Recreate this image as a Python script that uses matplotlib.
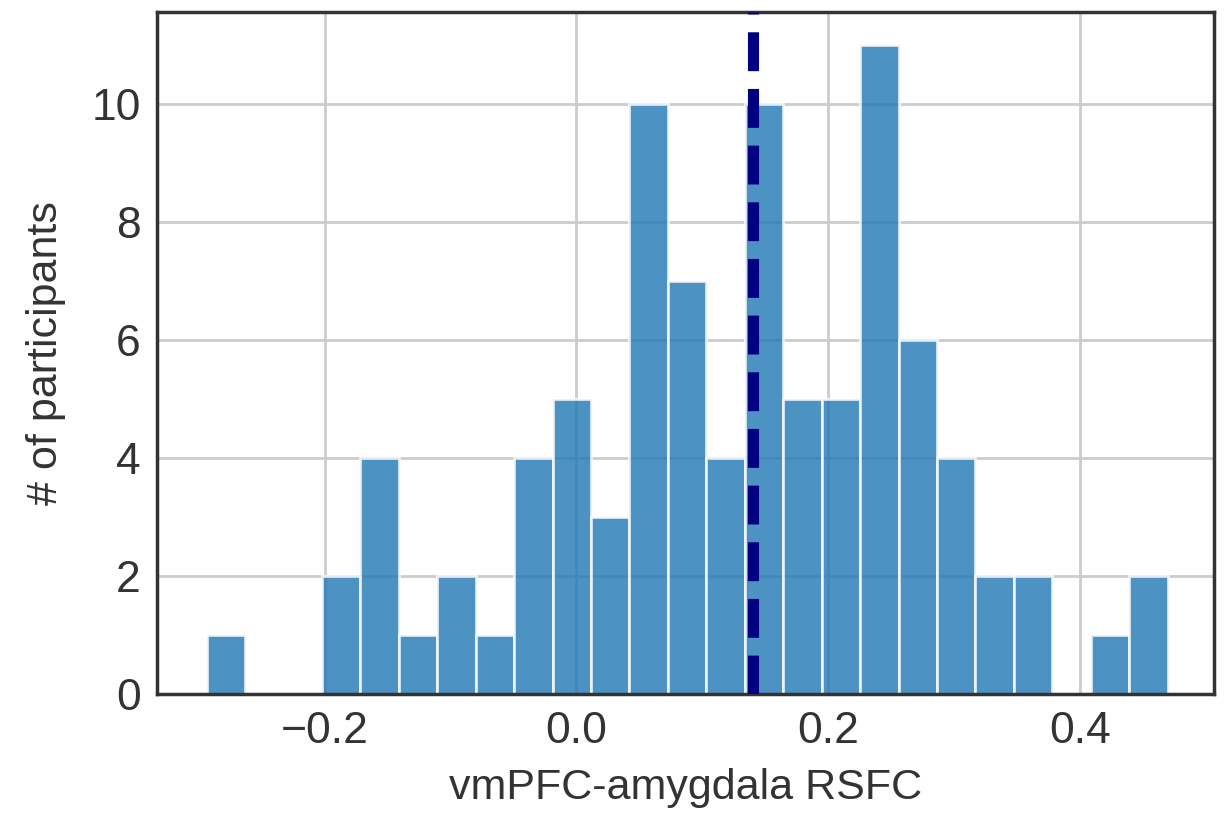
import matplotlib
matplotlib.use("Agg")
import matplotlib.pyplot as plt
import numpy as np

# Data
bin_start = -0.2937
bin_width = 0.03054
counts = [1, 0, 0, 2, 4, 1, 2, 1, 4, 5, 3, 10, 7, 4, 10, 5, 5, 11, 6, 4, 2, 2, 0, 1, 2]
mean_value = 0.1405
xlabel = "vmPFC-amygdala RSFC"
ylabel = "# of participants"

edges = bin_start + bin_width * np.arange(len(counts) + 1)
centers = (edges[:-1] + edges[1:]) / 2

plt.rcParams["font.family"] = ["Liberation Sans", "DejaVu Sans"]

fig = plt.figure(figsize=(12.28, 8.4), dpi=100)
ax = fig.add_axes([0.128, 0.174, 0.861, 0.812])

ax.hist(centers, bins=edges, weights=counts, color="tab:blue", alpha=0.8,
        edgecolor="white", linewidth=2, zorder=2)
ax.axvline(mean_value, color="navy", linewidth=8, dashes=(3.5, 1.6), zorder=3)

ax.set_xlim(-0.333, 0.507)
ax.set_ylim(0, 11.56)
ax.set_xticks([-0.2, 0.0, 0.2, 0.4])
ax.set_yticks([0, 2, 4, 6, 8, 10])
ax.grid(True, color="#cccccc", linewidth=2, zorder=0)
ax.set_axisbelow(True)
for s in ax.spines.values():
    s.set_color("#333333")
    s.set_linewidth(2.5)
ax.tick_params(axis="both", length=0, labelsize=32, colors="#333333", pad=12)
ax.set_xlabel(xlabel, fontsize=31, color="#333333", labelpad=12)
ax.set_ylabel(ylabel, fontsize=31, color="#333333", labelpad=18)

fig.savefig("out.png", dpi=100)
